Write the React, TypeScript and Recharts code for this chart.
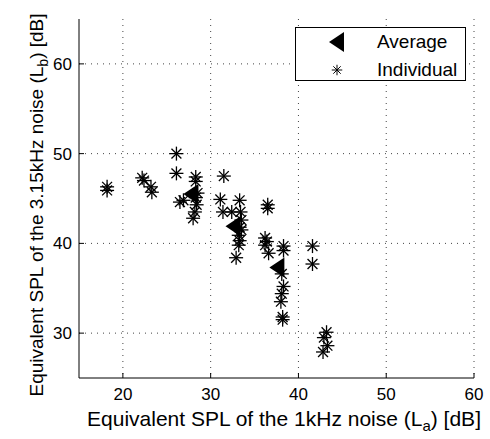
import { ScatterChart, Scatter, XAxis, YAxis, CartesianGrid, Legend } from "recharts"

const FONT = "'Liberation Sans', Arial, sans-serif"

// Equivalent SPL (dB)
const averageLa = [27.8, 32.6, 37.6]
const averageLb = [45.5, 41.9, 37.3]

const individualLa = [
  18.2, 18.2, 22.2, 22.4, 23.2, 23.3,
  26.1, 26.1, 26.5, 26.9,
  28.3, 28.3, 28.5, 28.4, 28.2, 28.0, 28.3,
  31.5, 31.1, 31.4, 32.4, 33.3, 33.4, 33.5, 33.3, 33.5, 33.2, 33.3, 33.2, 32.9,
  36.5, 36.5, 36.2, 36.4, 36.2, 36.6,
  38.3, 38.3, 38.1, 38.3, 38.1, 38.0, 38.2, 38.2,
  41.6, 41.6,
  43.2, 42.9, 43.3, 42.8,
]
const individualLb = [
  46.3, 45.9, 47.3, 47.0, 46.3, 45.7,
  50.0, 47.8, 44.6, 44.8,
  47.4, 46.9, 45.6, 44.3, 43.5, 42.8, 45.1,
  47.5, 44.9, 43.5, 43.5, 44.8, 43.5, 42.6, 41.8, 41.5, 40.9, 40.3, 39.8, 38.4,
  44.3, 43.9, 40.6, 40.2, 39.8, 38.9,
  39.7, 39.2, 36.6, 35.2, 34.4, 33.5, 31.8, 31.5,
  39.7, 37.7,
  30.1, 29.5, 28.6, 27.9,
]

const xTicks = [20, 30, 40, 50, 60]
const yTicks = [30, 40, 50, 60]

const averageData = averageLa.map((la, i) => ({ la, lb: averageLb[i] }))
const individualData = individualLa.map((la, i) => ({ la, lb: individualLb[i] }))

function Star(props: any) {
  const { cx, cy } = props
  const r = 7
  const d = r * 0.7071
  return (
    <g stroke="#000" strokeWidth={1.3}>
      <line x1={cx - r} y1={cy} x2={cx + r} y2={cy} />
      <line x1={cx} y1={cy - r} x2={cx} y2={cy + r} />
      <line x1={cx - d} y1={cy - d} x2={cx + d} y2={cy + d} />
      <line x1={cx - d} y1={cy + d} x2={cx + d} y2={cy - d} />
    </g>
  )
}

function Triangle(props: any) {
  const { cx, cy } = props
  return <polygon points={`${cx - 8},${cy} ${cx + 7},${cy - 10} ${cx + 7},${cy + 10}`} fill="#000" />
}

function Nothing() {
  return <g />
}

function XLabel() {
  return (
    <text x={284} y={426} textAnchor="middle" fontFamily={FONT} fontSize={21} fill="#000">
      Equivalent SPL of the 1kHz noise (L<tspan dy={5} fontSize={15}>a</tspan>
      <tspan dy={-5}>) [dB]</tspan>
    </text>
  )
}

function YLabel() {
  return (
    <text
      x={0}
      y={0}
      transform="translate(43, 205) rotate(-90)"
      textAnchor="middle"
      fontFamily={FONT}
      fontSize={19}
      fill="#000"
    >
      Equivalent SPL of the 3.15kHz noise (L<tspan dy={5} fontSize={14}>b</tspan>
      <tspan dy={-5}>) [dB]</tspan>
    </text>
  )
}

function LegendBox() {
  return (
    <svg width={171} height={54} style={{ display: "block" }}>
      <rect x={0.5} y={0.5} width={170} height={53} fill="#fff" stroke="#000" />
      <Triangle cx={42} cy={15} />
      <g transform="translate(42, 43) scale(0.75) translate(-42, -43)">
        <Star cx={42} cy={43} />
      </g>
      <text x={82} y={21} fontFamily={FONT} fontSize={19} fill="#000">Average</text>
      <text x={82} y={49} fontFamily={FONT} fontSize={19} fill="#000">Individual</text>
    </svg>
  )
}

export default function App() {
  return (
    <div style={{ position: "absolute", left: 0, top: 0, background: "#fff" }}>
      <ScatterChart width={490} height={439} margin={{ top: 19, right: 16, bottom: 0, left: 0 }}>
        <CartesianGrid
          xAxisId="bottom"
          yAxisId="left"
          stroke="#444"
          strokeDasharray="1 5"
          horizontalValues={yTicks}
          verticalValues={xTicks}
        />
        <XAxis
          xAxisId="bottom"
          dataKey="la"
          type="number"
          domain={[15, 60]}
          ticks={xTicks}
          height={61}
          stroke="#000"
          tickSize={-5}
          tickMargin={15}
          tick={{ fill: "#000", fontSize: 17, fontFamily: FONT }}
          label={<XLabel />}
        />
        <XAxis
          xAxisId="top"
          orientation="top"
          dataKey="la"
          type="number"
          domain={[15, 60]}
          ticks={xTicks}
          height={0}
          stroke="#000"
          tickSize={-5}
          tick={false}
        />
        <YAxis
          yAxisId="left"
          dataKey="lb"
          type="number"
          domain={[25, 65]}
          ticks={yTicks}
          width={79}
          stroke="#000"
          tickSize={-5}
          tickMargin={12}
          tick={{ fill: "#000", fontSize: 17, fontFamily: FONT }}
          label={<YLabel />}
        />
        <YAxis
          yAxisId="right"
          orientation="right"
          dataKey="lb"
          type="number"
          domain={[25, 65]}
          ticks={yTicks}
          width={0}
          stroke="#000"
          tickSize={-5}
          tick={false}
        />
        <Scatter
          name="Average"
          data={averageData}
          xAxisId="bottom"
          yAxisId="left"
          shape={Triangle}
          isAnimationActive={false}
        />
        <Scatter
          name="Individual"
          data={individualData}
          xAxisId="bottom"
          yAxisId="left"
          shape={Star}
          isAnimationActive={false}
        />
        <Scatter
          name="frame"
          data={averageData}
          xAxisId="top"
          yAxisId="right"
          shape={Nothing}
          legendType="none"
          isAnimationActive={false}
        />
        <Legend
          layout="vertical"
          align="center"
          verticalAlign="middle"
          content={() => <LegendBox />}
          wrapperStyle={{ left: 295, top: 27, width: 171, height: 54 }}
        />
      </ScatterChart>
    </div>
  )
}
